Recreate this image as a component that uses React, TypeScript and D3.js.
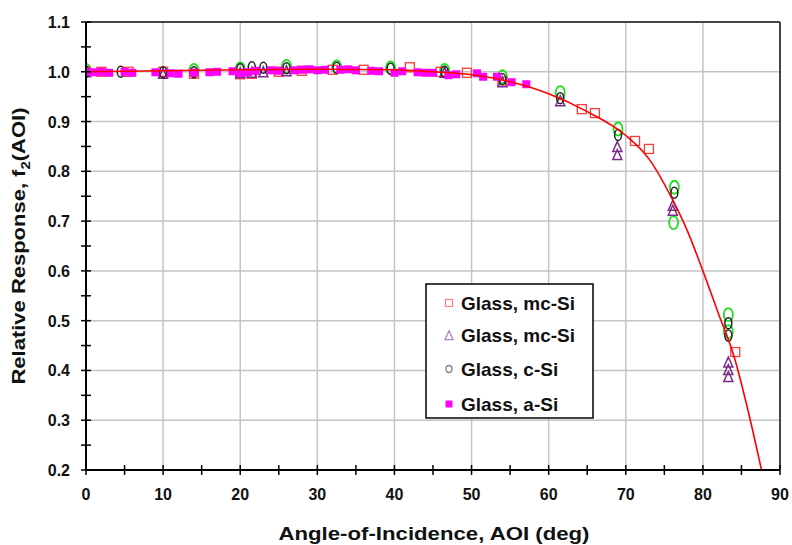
import React from "react";
import * as d3 from "d3";

// ---- axis ticks ----
const xMajor = [0, 10, 20, 30, 40, 50, 60, 70, 80, 90];
const xMinor = [5, 15, 25, 35, 45, 55, 65, 75, 85];
const yMajor = [0.2, 0.3, 0.4, 0.5, 0.6, 0.7, 0.8, 0.9, 1.0, 1.1];
const yMinor = [0.25, 0.35, 0.45, 0.55, 0.65, 0.75, 0.85, 0.95, 1.05];

// ---- fitted curve ----
const curveAoi = [0, 10, 20, 30, 40, 45, 50, 55, 60, 65, 70, 73, 76, 78, 80, 82, 84, 86, 87.6];
const curveVal = [1.0, 1.002, 1.004, 1.005, 1.004, 1.0, 0.994, 0.98, 0.956, 0.92, 0.872, 0.825, 0.745, 0.68, 0.6, 0.515, 0.43, 0.31, 0.2];

// ---- Glass, mc-Si (open squares) ----
const redAoi = [0, 2, 5.5, 10, 14, 20, 21.5, 25, 28, 32, 36, 42, 46, 49.4, 54, 64.3, 66, 71.2, 73, 84.2];
const redVal = [1.0, 1.0, 1.0, 1.0, 0.996, 0.995, 0.996, 1.0, 1.002, 1.004, 1.004, 1.009, 1.0, 0.998, 0.98, 0.925, 0.917, 0.861, 0.845, 0.437];

// ---- Glass, mc-Si (triangles) ----
const purAoi = [0, 10, 20, 21.5, 23, 26, 46.5, 54, 61.5, 68.9, 68.9, 76.1, 76.1, 83.3, 83.3, 83.3];
const purVal = [0.998, 0.995, 0.996, 0.997, 0.998, 1.0, 0.997, 0.978, 0.94, 0.848, 0.832, 0.73, 0.72, 0.415, 0.4, 0.386];

// ---- Glass, c-Si (dark ovals) ----
const blkAoi = [0, 4.5, 10, 14, 20, 21.5, 23, 26, 32.5, 39.5, 46.5, 54, 61.5, 69, 76.3, 83.3, 83.3];
const blkVal = [1.0, 1.0, 0.999, 0.999, 1.005, 1.009, 1.008, 1.007, 1.008, 1.006, 1.0, 0.985, 0.947, 0.873, 0.757, 0.495, 0.47];

// ---- extra green ovals ----
const grnAoi = [0, 14, 20, 26, 32.5, 39.5, 46.5, 54, 61.5, 69, 76.3, 76.2, 83.3, 83.3];
const grnVal = [1.003, 1.003, 1.006, 1.011, 1.01, 1.008, 1.003, 0.99, 0.958, 0.885, 0.768, 0.697, 0.512, 0.478];

// ---- Glass, a-Si (filled squares) ----
const magAoi = [0, 1, 2, 3, 5, 6, 9, 11, 12, 14, 16, 17, 19, 20, 21, 22, 24, 25, 27, 28, 29, 30, 31, 33, 34, 35, 37, 38, 40, 41, 43, 44, 45, 47, 48, 50.7, 51.5, 53.3, 55.2, 57.1];
const magVal = [1.0, 0.999, 1.0, 0.998, 1.0, 0.998, 0.999, 0.997, 0.996, 0.998, 0.999, 1.0, 1.001, 0.997, 0.999, 1.002, 1.003, 1.002, 1.003, 1.004, 1.005, 1.003, 1.004, 1.004, 1.005, 1.003, 1.002, 1.001, 0.998, 1.001, 0.999, 0.998, 0.998, 0.993, 0.995, 0.997, 0.99, 0.99, 0.979, 0.975];

const legendLabels = ["Glass, mc-Si", "Glass, mc-Si", "Glass, c-Si", "Glass, a-Si"];

export default function App() {
  const left = 86, right = 780, top = 22, bottom = 470;
  const x = d3.scaleLinear().domain([0, 90]).range([left, right]);
  const y = d3.scaleLinear().domain([0.2, 1.1]).range([bottom, top]);
  const line = d3
    .line<number>()
    .x((_, i) => x(curveAoi[i]))
    .y((_, i) => y(curveVal[i]))
    .curve(d3.curveMonotoneX);
  const font = "'Liberation Sans', Arial, sans-serif";
  const tri = (cx: number, cy: number, s: number) =>
    `M${cx},${cy - s * 0.65}L${cx + s * 0.5},${cy + s * 0.45}L${cx - s * 0.5},${cy + s * 0.45}Z`;

  const legX = 426, legY = 284, legW = 167, legH = 134;
  const rowY = [303, 335, 369, 404];

  return (
    <svg width={792} height={545} style={{ position: "absolute", left: 0, top: 0, background: "#fff" }} fontFamily={font}>
      <defs>
        <clipPath id="plot">
          <rect x={left} y={top} width={right - left} height={bottom - top} />
        </clipPath>
      </defs>
      <rect x={0} y={0} width={792} height={545} fill="#fff" />
      {/* grid */}
      {xMajor.slice(1, -1).map((v) => (
        <line key={"gx" + v} x1={x(v)} x2={x(v)} y1={top} y2={bottom} stroke="#c4c4c4" strokeWidth={1.5} />
      ))}
      {yMajor.slice(1, -1).map((v) => (
        <line key={"gy" + v} x1={left} x2={right} y1={y(v)} y2={y(v)} stroke="#c4c4c4" strokeWidth={1.5} />
      ))}
      {/* frame top/right */}
      <line x1={left} x2={right} y1={top} y2={top} stroke="#444" strokeWidth={2} />
      <line x1={right} x2={right} y1={top} y2={bottom} stroke="#444" strokeWidth={2} />

      {/* markers */}
      <g clipPath="url(#plot)">
        {grnAoi.map((a, i) => (
          <ellipse key={"g" + i} cx={x(a)} cy={y(grnVal[i])} rx={4.5} ry={6.5} fill="none" stroke="#22dd22" strokeWidth={1.8} />
        ))}
        {redAoi.map((a, i) => (
          <rect key={"r" + i} x={x(a) - 4.5} y={y(redVal[i]) - 4.5} width={9} height={9} fill="none" stroke="#ff3a3a" strokeWidth={1.3} />
        ))}
        {purAoi.map((a, i) => (
          <path key={"p" + i} d={tri(x(a), y(purVal[i]), 9)} fill="none" stroke="#7a2a8a" strokeWidth={1.5} />
        ))}
        {blkAoi.map((a, i) => (
          <ellipse key={"b" + i} cx={x(a)} cy={y(blkVal[i])} rx={3.5} ry={5.5} fill="none" stroke="#222" strokeWidth={1.5} />
        ))}
        {magAoi.map((a, i) => (
          <rect key={"m" + i} x={x(a) - 4} y={y(magVal[i]) - 4} width={8} height={8} fill="#ff00ff" />
        ))}
        <path d={line(curveAoi) || ""} fill="none" stroke="#ff0000" strokeWidth={1.6} />
      </g>

      {/* axes */}
      <line x1={left} x2={left} y1={top} y2={bottom} stroke="#000" strokeWidth={2} />
      <line x1={left} x2={right} y1={bottom} y2={bottom} stroke="#000" strokeWidth={2} />
      {[...xMajor, ...xMinor].map((v) => (
        <line key={"tx" + v} x1={x(v)} x2={x(v)} y1={bottom - 5} y2={bottom + 5} stroke="#000" strokeWidth={1.5} />
      ))}
      {[...yMajor, ...yMinor].map((v) => (
        <line key={"ty" + v} x1={left - 5} x2={left + 5} y1={y(v)} y2={y(v)} stroke="#000" strokeWidth={1.5} />
      ))}
      {xMajor.map((v) => (
        <text key={"lx" + v} x={x(v)} y={500} textAnchor="middle" fontSize={16} fontWeight="bold" fill="#111">
          {v}
        </text>
      ))}
      {yMajor.map((v) => (
        <text key={"ly" + v} x={70} y={y(v) + 6} textAnchor="end" fontSize={16} fontWeight="bold" fill="#111">
          {v.toFixed(1)}
        </text>
      ))}

      {/* axis titles */}
      <text x={434} y={540} textAnchor="middle" fontSize={19} fontWeight="bold" fill="#111" textLength={311} lengthAdjust="spacingAndGlyphs">
        Angle-of-Incidence, AOI (deg)
      </text>
      <text transform="translate(25,246) rotate(-90)" textAnchor="middle" fontSize={19} fontWeight="bold" fill="#111" textLength={277} lengthAdjust="spacingAndGlyphs">
        Relative Response, f<tspan fontSize={13} dy={5}>2</tspan><tspan dy={-5}>(AOI)</tspan>
      </text>

      {/* legend */}
      <rect x={legX} y={legY} width={legW} height={legH} fill="#fff" stroke="#000" strokeWidth={1.5} />
      <rect x={445.5} y={rowY[0] - 3.5} width={7} height={7} fill="none" stroke="#ff8080" strokeWidth={1.2} />
      <path d={tri(449, rowY[1] + 1, 8)} fill="none" stroke="#b080c0" strokeWidth={1.3} />
      <ellipse cx={449} cy={rowY[2]} rx={3} ry={3.5} fill="none" stroke="#888" strokeWidth={1.4} />
      <rect x={445.5} y={rowY[3] - 3.5} width={7} height={7} fill="#ff00ff" />
      {legendLabels.map((t, i) => (
        <text key={"lg" + i} x={461} y={rowY[i] + 7} fontSize={19} fontWeight="bold" fill="#111">
          {t}
        </text>
      ))}
    </svg>
  );
}
